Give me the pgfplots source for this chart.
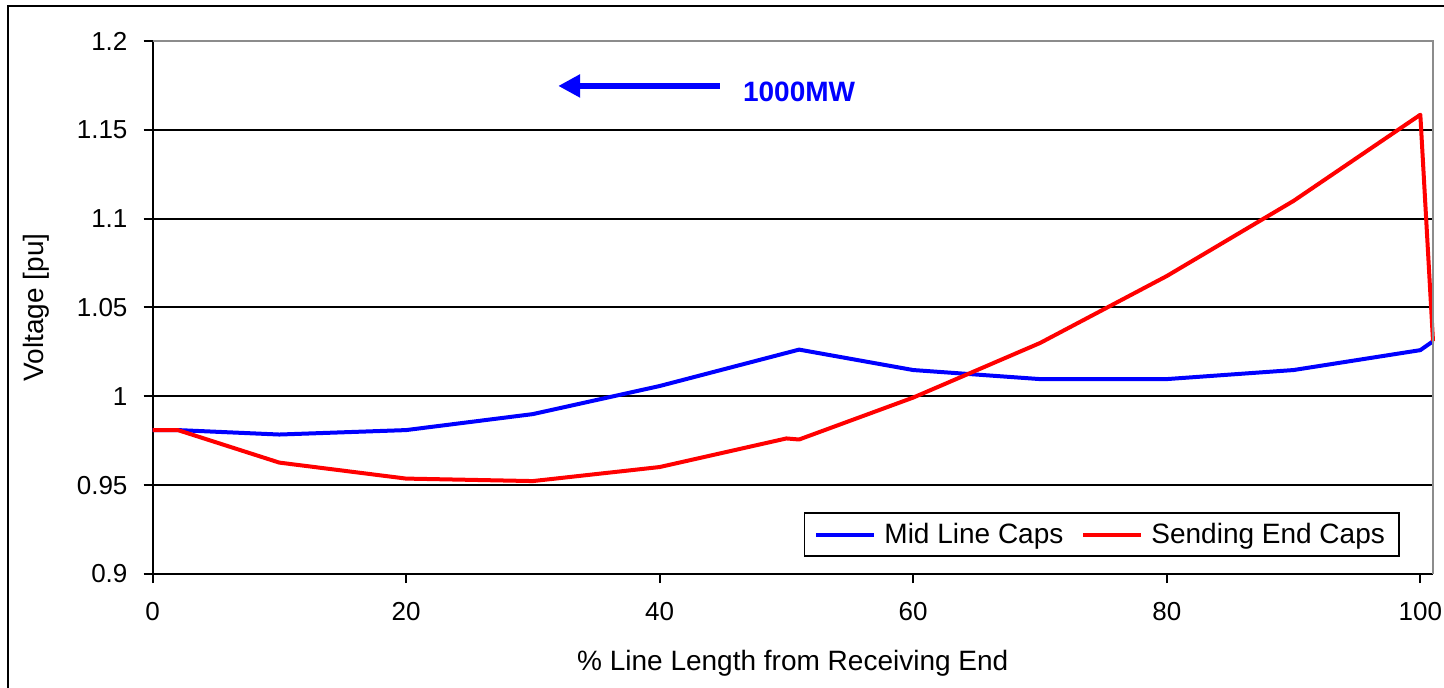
\documentclass[border=0pt]{standalone}
\usepackage{fontspec}
\setmainfont{Liberation Sans}
\usepackage{pgfplots}
\pgfplotsset{compat=1.18}
\usetikzlibrary{arrows.meta}
\definecolor{xlblue}{RGB}{0,0,255}
\definecolor{xlred}{RGB}{255,0,0}
\definecolor{framegray}{RGB}{140,140,140}
\begin{document}
\begin{tikzpicture}[x=1pt,y=1pt]
% outer chart border
\draw[line width=1pt,black] (4,-3) rectangle (740,-360);
\begin{axis}[
  at={(76.25pt,-287pt)}, anchor=south west,
  scale only axis, width=640.25pt, height=266.5pt,
  xmin=0, xmax=101, ymin=0.9, ymax=1.2,
  axis x line*=bottom, axis y line*=left,
  axis line style={black, line width=1pt, -},
  xtick={0,20,40,60,80,100},
  ytick={0.9,0.95,1,1.05,1.1,1.15,1.2},
  yticklabels={0.9,0.95,1,1.05,1.1,1.15,1.2},
  tick align=outside, tick style={black, line width=1pt},
  major tick length=4.5pt,
  ymajorgrids, grid style={black, line width=1pt},
  /pgf/number format/assume math mode=true,
  tick label style={font=\fontsize{13}{15}\selectfont},
  yticklabel style={xshift=-4.5pt},
  xticklabel style={yshift=-6pt},
  xlabel={\% Line Length from Receiving End},
  ylabel={Voltage [pu]},
  label style={font=\fontsize{14}{16}\selectfont},
  xlabel style={at={(axis description cs:0.5,-0.167)}, anchor=center},
  ylabel style={at={(axis description cs:-0.091,0.5)}, anchor=center, rotate=0},
  legend style={at={(0.974,0.032)}, anchor=south east, legend columns=2,
    draw=black, line width=0.8pt, font=\fontsize{14}{16}\selectfont,
    inner xsep=5pt, inner ysep=3pt,
    /tikz/every odd column/.append style={column sep=2pt},
    /tikz/every even column/.append style={column sep=7pt}},
  legend image code/.code={\draw[#1] (0pt,0pt) -- (29pt,0pt);},
  clip=false,
]
\addplot[xlblue, line width=2pt, line join=round] coordinates {
(0,0.981) (2,0.981) (10,0.9785) (20,0.981) (30,0.990) (40,1.0058)
(51,1.0263) (60,1.0148) (70,1.0097) (80,1.0097) (90,1.0148)
(100,1.026) (101,1.031)
};
\addlegendentry{Mid Line Caps}
\addplot[xlred, line width=2pt, line join=round] coordinates {
(0,0.981) (2,0.981) (10,0.9627) (20,0.9537) (30,0.9523) (40,0.9602)
(50,0.9763) (51,0.9757) (60,0.9993) (70,1.030) (80,1.0677) (90,1.110)
(100,1.1585) (101,1.031)
};
\addlegendentry{Sending End Caps}
\draw[framegray, line width=1pt] (rel axis cs:0,1) -- (rel axis cs:1,1) -- (rel axis cs:1,0);
\draw[xlblue, line width=3pt, -{Triangle[length=11pt,width=11pt]}] (axis cs:44.75,1.1747) -- (axis cs:32,1.1747);
\node[text=xlblue, font=\fontsize{14}{16}\selectfont\bfseries] at (axis cs:51,1.1713) {1000MW};
\end{axis}
\pgfresetboundingbox
\useasboundingbox (0,0) rectangle (722,-344);
\end{tikzpicture}
\end{document}
